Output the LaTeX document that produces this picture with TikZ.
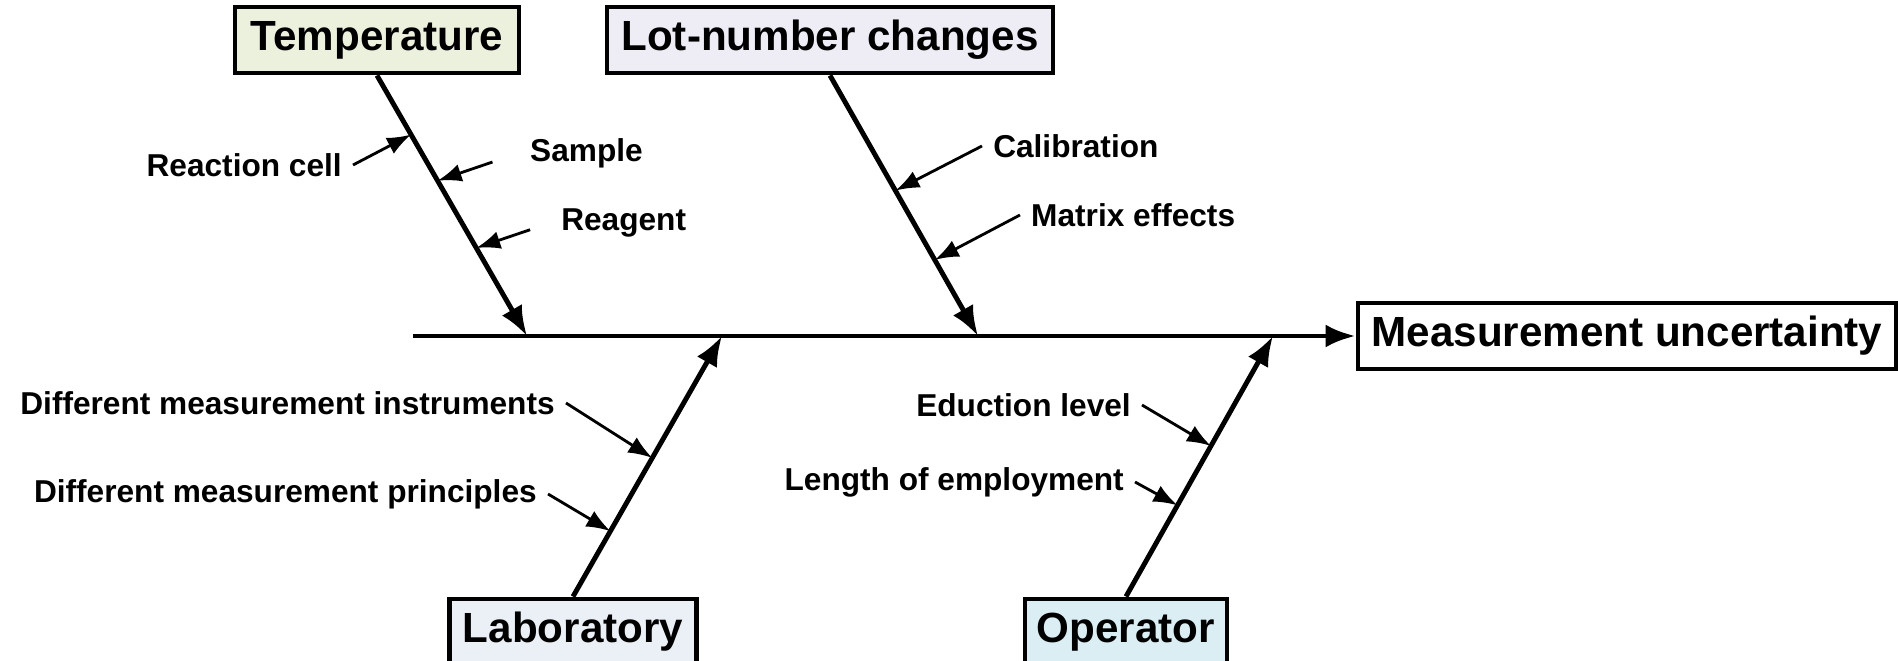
\documentclass[tikz,border=0pt]{standalone}
\usepackage{fontspec}
\setmainfont{Liberation Sans}
\usetikzlibrary{arrows.meta,calc}
\definecolor{tempfill}{RGB}{236,241,222}
\definecolor{lotfill}{RGB}{238,236,244}
\definecolor{labfill}{RGB}{235,239,246}
\definecolor{operfill}{RGB}{218,238,243}
\begin{document}
\begin{tikzpicture}[
    cause/.style={draw,line width=1.4pt,inner sep=0pt,minimum height=0.66cm,font=\fontsize{12}{14}\selectfont\bfseries},
    sub/.style={inner sep=3pt,font=\fontsize{9}{11}\selectfont\bfseries},
    bone/.style={line width=1.4pt,-{Latex[length=3mm,width=2.3mm]}},
    twig/.style={line width=0.8pt,-{Latex[length=2.4mm,width=1.8mm]}}]
    \useasboundingbox (0,-3.25) rectangle (18.98,3.36);
    % the four causes and the effect
    \node[cause,fill=tempfill,minimum width=2.84cm] (temp) at (3.77,2.96) {Temperature};
    \node[cause,fill=lotfill,minimum width=4.46cm] (lot) at (8.30,2.96) {Lot-number changes};
    \node[cause,fill=labfill,minimum width=2.47cm] (lab) at (5.73,-2.96) {Laboratory};
    \node[cause,fill=operfill,minimum width=2.02cm] (oper) at (11.26,-2.96) {Operator};
    \node[cause,fill=white,minimum width=5.38cm] (effect) at (16.27,0) {Measurement uncertainty};
    % spine and main bones
    \coordinate (tail) at (4.13,0);
    \coordinate (t1) at (5.27,0);
    \coordinate (t2) at (9.78,0);
    \coordinate (b1) at (7.22,0);
    \coordinate (b2) at (12.73,0);
    \draw[bone] (tail) -- (effect.west);
    \draw[bone] (temp.south) -- (t1);
    \draw[bone] (lot.south) -- (t2);
    \draw[bone] (lab.north) -- (b1);
    \draw[bone] (oper.north) -- (b2);
    % sub-causes
    \node[sub,anchor=east] (cell) at (3.53,1.71) {Reaction cell};
    \node[sub,anchor=west] (sample) at (5.19,1.83) {Sample};
    \node[sub,anchor=west] (reagent) at (5.50,1.13) {Reagent};
    \node[sub,anchor=west] (calib) at (9.82,1.90) {Calibration};
    \node[sub,anchor=west] (matrix) at (10.20,1.21) {Matrix effects};
    \node[sub,anchor=east] (instr) at (5.66,-0.67) {Different measurement instruments};
    \node[sub,anchor=east] (princ) at (5.48,-1.58) {Different measurement principles};
    \node[sub,anchor=east] (edu) at (11.42,-0.69) {Eduction level};
    \node[sub,anchor=east] (length) at (11.35,-1.46) {Length of employment};
    \foreach \lbl/\anc/\src/\dst/\f/\gap in {cell/east/temp.south/t1/.227/0mm,
        sample/west/temp.south/t1/.404/2.8mm, reagent/west/temp.south/t1/.662/2.1mm,
        calib/west/lot.south/t2/.442/0mm, matrix/west/lot.south/t2/.708/0mm,
        instr/east/lab.north/b1/.532/0mm, princ/east/lab.north/b1/.251/0mm,
        edu/east/oper.north/b2/.578/0mm, length/east/oper.north/b2/.350/0mm}
        \draw[twig,shorten <=\gap] (\lbl.\anc) -- ($(\src)!\f!(\dst)$);
\end{tikzpicture}
\end{document}
